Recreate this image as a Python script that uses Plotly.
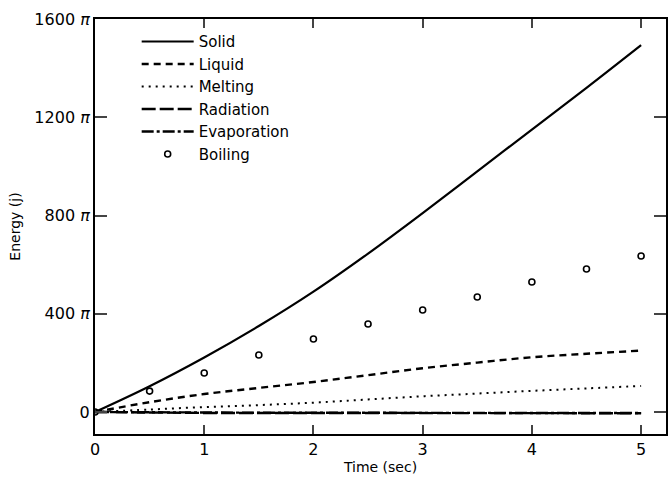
import plotly.graph_objects as go

t = [0, 0.5, 1, 1.5, 2, 2.5, 3, 3.5, 4, 4.5, 5]
solid = [0, 105, 222, 350, 490, 645, 810, 980, 1150, 1320, 1494]
liquid = [0, 40, 73, 98, 122, 150, 178, 201, 223, 237, 250]
melting = [0, 10, 20, 28, 38, 51, 64, 75, 86, 96, 106]
radiation = [0, -3, -4, -4, -4, -5, -5, -5, -5, -5, -5]
evaporation = [0, -2, -3, -3, -3, -4, -4, -4, -4, -4, -4]
boil_t = [0, 0.5, 1, 1.5, 2, 2.5, 3, 3.5, 4, 4.5, 5]
boiling = [0, 85, 159, 232, 297, 358, 415, 468, 529, 582, 635]

yticks = [0, 400, 800, 1200, 1600]
ytick_text = ["0", "400 <i>π</i>", "800 <i>π</i>", "1200 <i>π</i>", "1600 <i>π</i>"]
xticks = [0, 1, 2, 3, 4, 5]

FONT = "DejaVu Sans"
fig = go.Figure()
fig.add_trace(go.Scatter(x=t, y=solid, name="Solid", mode="lines",
                         line=dict(color="black", width=2.2, shape="spline")))
fig.add_trace(go.Scatter(x=t, y=liquid, name="Liquid", mode="lines",
                         line=dict(color="black", width=2.4, dash="7px,5px", shape="spline")))
fig.add_trace(go.Scatter(x=t, y=melting, name="Melting", mode="lines",
                         line=dict(color="black", width=2, dash="2px,5px", shape="spline")))
fig.add_trace(go.Scatter(x=t, y=radiation, name="Radiation", mode="lines",
                         line=dict(color="black", width=2.4, dash="14px,4px")))
fig.add_trace(go.Scatter(x=t, y=evaporation, name="Evaporation", mode="lines",
                         line=dict(color="black", width=2.4, dash="12px,3px,3px,3px")))
fig.add_trace(go.Scatter(x=boil_t, y=boiling, name="Boiling", mode="markers",
                         marker=dict(symbol="circle-open", size=6, color="black",
                                     line=dict(width=1.6, color="black"))))

fig.update_layout(
    width=668, height=478,
    margin=dict(l=95, r=0, t=19, b=44),
    paper_bgcolor="white", plot_bgcolor="white",
    font=dict(family=FONT, color="black", size=14),
    showlegend=True,
    legend=dict(x=0.073, y=0.985, xanchor="left", yanchor="top",
                bgcolor="rgba(0,0,0,0)", font=dict(size=15, family=FONT, color="black"),
                tracegroupgap=0, itemwidth=52),
)
fig.update_xaxes(range=[0, 5.228], tickvals=xticks, ticks="inside", ticklen=9,
                 tickwidth=2, showline=True, linewidth=2, linecolor="black",
                 mirror="ticks", showgrid=False, zeroline=False,
                 tickfont=dict(size=16, color="black"),
                 title=dict(text="Time (sec)", font=dict(size=14, color="black"), standoff=4))
fig.update_yaxes(range=[-89.6, 1600], tickvals=yticks, ticktext=ytick_text,
                 ticks="inside", ticklen=12, tickwidth=2, showline=True,
                 linewidth=2, linecolor="black", mirror="ticks",
                 showgrid=False, zeroline=False, tickfont=dict(size=16, color="black"),
                 title=dict(text="Energy (j)", font=dict(size=14, color="black"), standoff=10))

fig.write_html("out.html")
